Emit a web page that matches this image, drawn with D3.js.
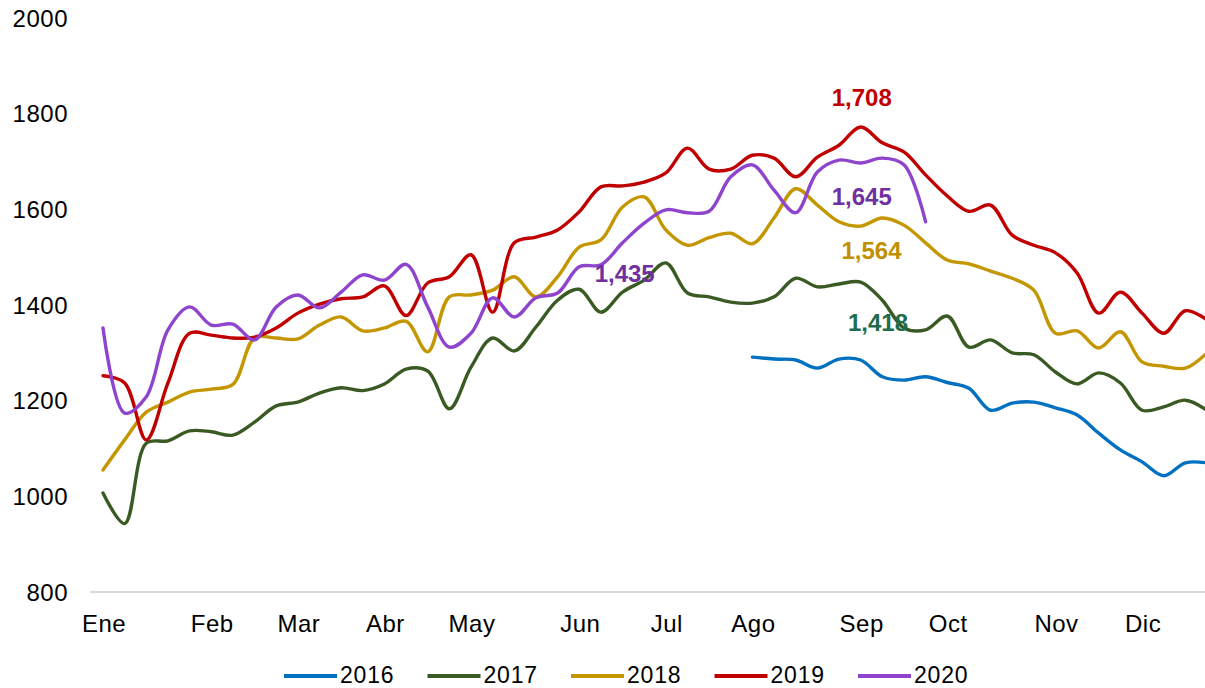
<!DOCTYPE html>
<html lang="es">
<head>
  <meta charset="UTF-8" />
  <title>Serie semanal 2016-2020</title>
  <script src="https://d3js.org/d3.v7.min.js"></script>
  <style>
    body { margin: 0; background: #fff; font-family: Arial, "Liberation Sans", sans-serif; }
    .tick-label { font-size: 24px; fill: #000; letter-spacing: 0.5px; }
    .legend text { font-size: 23px; fill: #000; letter-spacing: 0.8px; }
    .line { fill: none; stroke-width: 3.4; stroke-linejoin: round; stroke-linecap: round; }
    .value-label { font-size: 24px; font-weight: bold; text-anchor: middle; }
  </style>
</head>
<body>
<div id="chart"></div>
<script>
// --- Data: 52 weeks, month labels placed on the first week of each month ---
const monthLabels = ["Ene", "Feb", "Mar", "Abr", "May", "Jun", "Jul", "Ago", "Sep", "Oct", "Nov", "Dic"];
const monthWeeks = [0, 5, 9, 13, 17, 22, 26, 30, 35, 39, 44, 48];
const yTicks = [800, 1000, 1200, 1400, 1600, 1800, 2000];

// 2016 only starts in week 31
const s2016 = [null, null, null, null, null, null, null, null, null, null,
  null, null, null, null, null, null, null, null, null, null,
  null, null, null, null, null, null, null, null, null, null,
  1291, 1287, 1285, 1268, 1287, 1285, 1250, 1243, 1250, 1238,
  1226, 1180, 1195, 1197, 1185, 1170, 1132, 1097, 1072, 1043, 1070, 1070];
const s2017 = [1007, 943, 1111, 1116, 1137, 1135, 1128, 1155, 1189, 1197,
  1216, 1227, 1221, 1235, 1266, 1262, 1183, 1270, 1331, 1304,
  1354, 1410, 1433, 1385, 1427, 1452, 1488, 1425, 1417, 1406,
  1404, 1417, 1456, 1438, 1444, 1448, 1410, 1352, 1348, 1377,
  1312, 1327, 1300, 1296, 1260, 1235, 1258, 1237, 1180, 1187, 1201, 1180];
const s2018 = [1055, 1118, 1176, 1197, 1218, 1224, 1234, 1331, 1331, 1329,
  1358, 1375, 1346, 1352, 1366, 1302, 1417, 1421, 1431, 1459,
  1417, 1459, 1521, 1536, 1605, 1626, 1557, 1525, 1541, 1550,
  1528, 1582, 1643, 1609, 1574, 1565, 1582, 1567, 1530, 1494,
  1486, 1471, 1456, 1431, 1341, 1346, 1310, 1344, 1281, 1272, 1268, 1300];
const s2019 = [1252, 1237, 1118, 1237, 1341, 1337, 1331, 1333, 1352, 1383,
  1402, 1413, 1417, 1440, 1378, 1446, 1459, 1505, 1385, 1530,
  1542, 1557, 1595, 1647, 1649, 1657, 1676, 1728, 1684, 1684,
  1713, 1707, 1668, 1709, 1734, 1772, 1739, 1720, 1672, 1628,
  1596, 1609, 1546, 1525, 1509, 1467, 1383, 1427, 1383, 1341, 1388, 1369];
const s2020 = [1352, 1174, 1208, 1348, 1396, 1358, 1360, 1327, 1396, 1421,
  1394, 1427, 1463, 1452, 1485, 1396, 1312, 1341, 1415, 1375,
  1415, 1425, 1480, 1484, 1530, 1571, 1599, 1593, 1596, 1668,
  1693, 1640, 1593, 1678, 1703, 1697, 1707, 1693, 1574];

const seriesNames = ["2016", "2017", "2018", "2019", "2020"];
const seriesValues = [s2016, s2017, s2018, s2019, s2020];
const seriesColors = ["#0070C0", "#3A5A24", "#C49600", "#C00000", "#8E44CC"];

// value labels: text, week position, value position (baseline), colour
const labelTexts = ["1,708", "1,645", "1,564", "1,418", "1,435"];
const labelWeeks = [35.05, 35.05, 35.5, 35.8, 24.1];
const labelValues = [1816, 1609, 1496, 1346, 1448];
const labelColors = ["#C00000", "#7030A0", "#BF9000", "#216B4E", "#7030A0"];

// --- Dimensions ---
const W = 1205, H = 688;
const svg = d3.select("#chart").append("svg")
  .attr("width", W).attr("height", H);

const x = d3.scaleLinear().domain([0, 51]).range([103, 1207]);
const y = d3.scaleLinear().domain([800, 2000]).range([592, 18]);

// --- Baseline (axis at 800) ---
svg.append("line")
  .attr("x1", 90).attr("x2", W)
  .attr("y1", y(800)).attr("y2", y(800))
  .attr("stroke", "#d9d9d9").attr("stroke-width", 2);

// --- Y tick labels ---
svg.append("g").selectAll("text")
  .data(yTicks).join("text")
  .attr("class", "tick-label")
  .attr("x", 68).attr("y", d => y(d) + 8.5)
  .attr("text-anchor", "end")
  .text(d => d);

// --- X month labels ---
svg.append("g").selectAll("text")
  .data(monthLabels).join("text")
  .attr("class", "tick-label")
  .attr("x", (d, i) => x(monthWeeks[i]) + 1)
  .attr("y", 632)
  .attr("text-anchor", "middle")
  .text(d => d);

// --- Lines (2016 / 2020 keep their week index so gaps stay in place) ---
const line = d3.line()
  .x(p => x(p[0]))
  .y(p => y(p[1]))
  .curve(d3.curveCatmullRom.alpha(0.5));

svg.append("g").selectAll("path")
  .data(seriesValues).join("path")
  .attr("class", "line")
  .attr("stroke", (d, i) => seriesColors[i])
  .attr("d", d => line(d.map((v, i) => [i, v]).filter(p => p[1] != null)));

// --- Value labels ---
svg.append("g").selectAll("text")
  .data(labelTexts).join("text")
  .attr("class", "value-label")
  .attr("x", (d, i) => x(labelWeeks[i]))
  .attr("y", (d, i) => y(labelValues[i]))
  .attr("fill", (d, i) => labelColors[i])
  .text(d => d);

// --- Legend ---
const legend = svg.append("g").attr("class", "legend");
seriesNames.forEach((name, i) => {
  const lx = 284 + i * 143.5;
  const row = legend.append("g").attr("transform", `translate(${lx},676)`);
  row.append("line")
    .attr("x1", 0).attr("x2", 53).attr("y1", 0).attr("y2", 0)
    .attr("stroke", seriesColors[i]).attr("stroke-width", 4);
  row.append("text").attr("x", 56).attr("y", 7).text(name);
});
</script>
</body>
</html>
